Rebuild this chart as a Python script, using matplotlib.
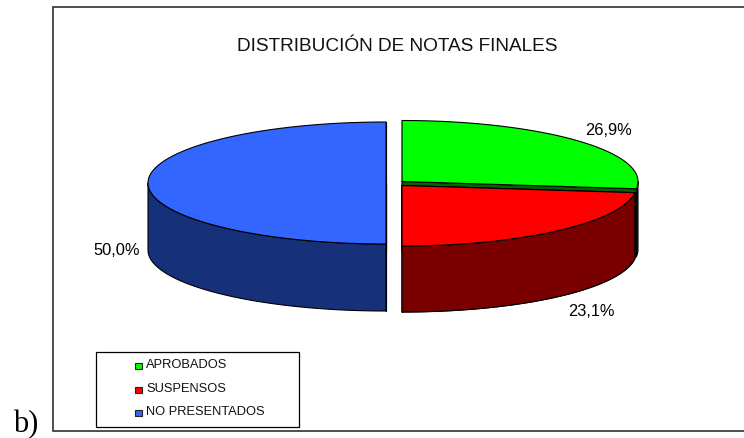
import numpy as np
import matplotlib
matplotlib.use("Agg")
import matplotlib.pyplot as plt
from matplotlib.patches import Rectangle, Polygon

labels = ["APROBADOS", "SUSPENSOS", "NO PRESENTADOS"]
shares = [26.9, 23.1, 50.0]
share_text = ["26,9%", "23,1%", "50,0%"]
top_colors = ["#00ff00", "#ff0000", "#3366ff"]
cut_colors = ["#006600", "#7a0000", "#17307a"]
wall_colors = ["#0b2c00", "#7a0000", "#17307a"]
title = "DISTRIBUCIÓN DE NOTAS FINALES"

W, H = 744, 439
fig = plt.figure(figsize=(W / 100, H / 100), dpi=100, facecolor="white")
ax = fig.add_axes([0, 0, 1, 1])
ax.set_xlim(0, W)
ax.set_ylim(H, 0)
ax.axis("off")
FONT = "Liberation Sans"

# frame: open on the right, running off the image edge
ax.plot([W, 53, 53, W], [8, 8, 432, 432], color="#303030", lw=1.2,
        solid_joinstyle="miter", solid_capstyle="butt")
ax.text(397, 46.5, title, ha="center", va="center", fontsize=13.7, family=FONT,
        color="#111111")

centers = [(402, 182.5), (402, 186.5), (386, 184)]
rx = [236, 234.5, 238]
ry = [61, 60.5, 61]
depth = [68, 66, 67]

angles = 90 - np.cumsum([0] + shares) * 3.6


def arc(c, a, b, i):
    t = np.radians(np.linspace(a, b, 200))
    return np.column_stack((c[0] + rx[i] * np.cos(t), c[1] - ry[i] * np.sin(t)))


edge = dict(ec="black", lw=0.8, joinstyle="round")
for i in range(3):
    c = centers[i]
    a0, a1 = angles[i], angles[i + 1]
    d = np.array([0, depth[i]])
    rim = arc(c, a0, a1, i)
    # outer wall: only the part facing the viewer
    ts = np.linspace(a0, a1, 400)
    front = ts[np.sin(np.radians(ts)) <= 0]
    if len(front) > 1:
        f = arc(c, front[0], front[-1], i)
        ax.add_patch(Polygon(np.vstack((f, (f + d)[::-1])), fc=wall_colors[i], **edge))
    # cut faces
    for ang in (a0, a1):
        p = arc(c, ang, ang, i)[0]
        cut = [c, p, p + d, np.array(c) + d]
        ax.add_patch(Polygon(cut, fc=cut_colors[i], **edge))
    ax.add_patch(Polygon(np.vstack(([c], rim)), fc=top_colors[i], **edge))
    if i == 1:
        # redraw the visible red wall over the cut face
        f = arc(c, a0, a1, i)
        ax.add_patch(Polygon(np.vstack((f, (f + d)[::-1])), fc=wall_colors[i], **edge))
        ax.add_patch(Polygon(np.vstack(([c], rim)), fc=top_colors[i], **edge))

ax.text(608, 131, share_text[0], ha="center", va="center", fontsize=11.8, family=FONT)
ax.text(591, 312, share_text[1], ha="center", va="center", fontsize=11.8, family=FONT)
ax.text(117, 251, share_text[2], ha="center", va="center", fontsize=11.8, family=FONT)

# legend
ax.add_patch(Rectangle((96, 353), 203, 75, fc="white", ec="black", lw=0.9))
for lab, col, y in zip(labels, top_colors, [365, 389.5, 412.5]):
    ax.add_patch(Rectangle((135, y - 1.5), 6.5, 6, fc=col, ec="#222222", lw=0.8))
    ax.text(146, y, lab, ha="left", va="center", fontsize=9.3, family=FONT, color="#111111")

ax.text(13, 432.5, "b)", ha="left", va="baseline", fontsize=22, family="Liberation Serif")

fig.savefig("out.png", dpi=100, facecolor="white")
